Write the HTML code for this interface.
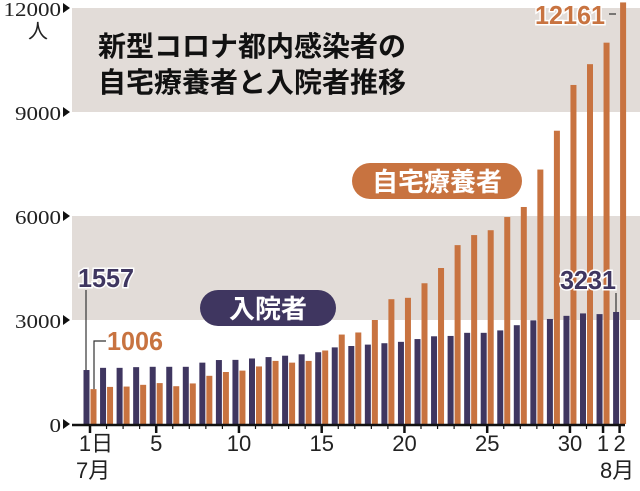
<!DOCTYPE html>
<html><head><meta charset="utf-8"><style>
html,body{margin:0;padding:0;background:#fff;}
svg{display:block;font-family:"Liberation Sans","Noto Sans CJK JP",sans-serif;}
</style></head><body>
<svg id="chart" width="640" height="491" viewBox="0 0 640 491" xmlns="http://www.w3.org/2000/svg">
<g id="bands"></g>
<g id="bars"></g>
<g id="axis"></g>
<g id="labels"></g>
</svg>
<script>
const days = ["1","2","3","4","5","6","7","8","9","10","11","12","13","14","15","16","17","18","19","20","21","22","23","24","25","26","27","28","29","30","31","8/1","8/2"];
const tickLabels = ["1日","5","10","15","20","25","30","1","2"];
const tickIdx = [0,4,9,14,19,24,29,31,32];
const hospitalized = [1557,1620,1620,1640,1650,1650,1650,1770,1845,1850,1890,1930,1970,2010,2070,2210,2250,2290,2330,2370,2450,2530,2540,2630,2630,2700,2850,2990,3030,3120,3190,3170,3231];
const homeCare = [1006,1070,1080,1130,1180,1090,1170,1390,1500,1540,1660,1820,1770,1820,2120,2580,2640,3000,3600,3640,4060,4500,5160,5450,5590,5970,6260,7340,8460,9780,10380,11000,12161];
const yTicks = [0,3000,6000,9000,12000];

const NS="http://www.w3.org/2000/svg";
const y0=424, ky=(424-8)/12000;
const Y=v=>y0-v*ky;
const X=i=>90+i*16.55;
function mk(tag,attrs,parent,text){const e=document.createElementNS(NS,tag);for(const k in attrs)e.setAttribute(k,attrs[k]);if(text!==undefined)e.textContent=text;parent.appendChild(e);return e;}
const bands=document.getElementById('bands'),bars=document.getElementById('bars'),axis=document.getElementById('axis'),labels=document.getElementById('labels');

let b=mk('rect',{x:72,y:Y(12000),width:568,height:Y(9000)-Y(12000),fill:'#e2dcd8'},bands);


b=mk('rect',{x:72,y:Y(6000),width:568,height:Y(3000)-Y(6000),fill:'#e2dcd8'},bands);



hospitalized.forEach((v,i)=>{
  const r=mk('rect',{x:X(i)-6.5,y:Y(v),width:6,height:y0-Y(v),fill:'#3f3660'},bars);
  
  
});
homeCare.forEach((v,i)=>{
  const r=mk('rect',{x:X(i)+0.5,y:Y(v),width:6,height:y0-Y(v),fill:'#c87340'},bars);
  
  
});

let l=mk('line',{x1:72,x2:625,y1:y0+1,y2:y0+1,stroke:'#111','stroke-width':2.5},axis);


days.forEach((d,i)=>{
  const major=tickIdx.includes(i);
  const t=mk('line',{x1:X(i),x2:X(i),y1:y0,y2:y0+(major?9:5),stroke:'#111','stroke-width':major?2.5:1.2},axis);
  
  
});
tickLabels.forEach((s,j)=>{
  const t=mk('text',{x:X(tickIdx[j])+(j==0?6:0),y:451,'font-size':22,'text-anchor':'middle',fill:'#222'},axis,s);
  
  
});
let t=mk('text',{x:76,y:478,'font-size':22,fill:'#222'},axis,'7月');


t=mk('text',{x:600,y:478,'font-size':22,fill:'#222'},axis,'8月');


yTicks.forEach(v=>{
  const tx=mk('text',{x:61,y:Y(v)+8,'font-size':20,'text-anchor':'end',fill:'#222','font-family':'Liberation Serif, serif',textLength:String(v).length*11.5,lengthAdjust:'spacingAndGlyphs'},axis,String(v));
  
  
  const p=mk('path',{d:`M63 ${Y(v)-5} L70 ${Y(v)} L63 ${Y(v)+5}Z`,fill:'#111'},axis);
  
  
});
t=mk('text',{x:38,y:38,'font-size':20,'text-anchor':'middle',fill:'#222'},axis,'人');



// title
t=mk('text',{x:98,y:56,'font-size':28,'font-weight':'bold',fill:'#111'},labels,'新型コロナ都内感染者の');


t=mk('text',{x:98,y:92,'font-size':28,'font-weight':'bold',fill:'#111'},labels,'自宅療養者と入院者推移');



// pills
let g=mk('rect',{x:200,y:290,width:136,height:36,rx:18,fill:'#3f3660'},labels);


t=mk('text',{x:268,y:318,'font-size':26,'text-anchor':'middle',fill:'#fff','font-weight':'bold'},labels,'入院者');


g=mk('rect',{x:352,y:163,width:170,height:36,rx:18,fill:'#c87340'},labels);


t=mk('text',{x:437,y:191,'font-size':26,'text-anchor':'middle',fill:'#fff','font-weight':'bold'},labels,'自宅療養者');



// value callouts
function callout(txt,x,y,color,name){
  const e=mk('text',{x:x,y:y,'font-size':26,'font-weight':'bold',fill:color,stroke:'#fff','stroke-width':3,'paint-order':'stroke',textLength:txt.length*14,lengthAdjust:'spacingAndGlyphs'},labels,txt);
  
  
}
const last=hospitalized.length-1;
callout(String(hospitalized[0]),78,287,'#3f3660','value-hospitalized-first');
callout(String(homeCare[0]),107,350,'#c87340','value-home-care-first');
callout(String(homeCare[last]),535,24,'#c87340','value-home-care-last');
callout(String(hospitalized[last]),560,289,'#3f3660','value-hospitalized-last');
let ln=mk('path',{d:`M86 290 L86 ${Y(hospitalized[0])}`,stroke:'#333','stroke-width':1.2,fill:'none'},labels);


ln=mk('path',{d:`M106 341 L94 341 L94 ${Y(homeCare[0])}`,stroke:'#333','stroke-width':1.2,fill:'none'},labels);


ln=mk('path',{d:`M609 14 L616 14`,stroke:'#333','stroke-width':1.2,fill:'none'},labels);


ln=mk('path',{d:`M616 293 L616 ${Y(hospitalized[last])}`,stroke:'#333','stroke-width':1.2,fill:'none'},labels);


</script>
</body></html>
